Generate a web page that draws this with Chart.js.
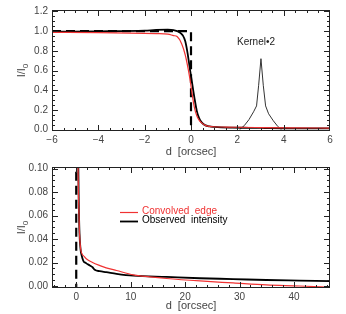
<!DOCTYPE html>
<html>
<head>
<meta charset="utf-8">
<script src="https://cdn.jsdelivr.net/npm/chart.js@4/dist/chart.umd.min.js"></script>
<style>
  html, body { margin: 0; padding: 0; background: #fff; }
  #wrap { position: relative; width: 346px; height: 314px; }
  canvas { position: absolute; left: 0; }
</style>
</head>
<body>
<div id="wrap">
  <canvas id="topChart" width="346" height="157" style="top:0"></canvas>
  <canvas id="bottomChart" width="346" height="157" style="top:157px"></canvas>
</div>
<script>
// observed intensity (black)
const obsD = [-6, -4, -2, -1.5, -1, -0.75, -0.5, -0.35, -0.25, -0.15, -0.05, 0.05, 0.15, 0.25, 0.35, 0.45, 0.6, 0.8, 1.0, 1.3, 1.8, 2.5, 3, 3.4, 4.3, 5.5, 7.4, 10.5, 16.6, 22.7, 28.8, 34.9, 41, 47];
const obsI = [0.995, 0.998, 1.005, 1.012, 1.015, 1.01, 0.99, 0.955, 0.9, 0.78, 0.62, 0.47, 0.32, 0.19, 0.115, 0.075, 0.045, 0.031, 0.026, 0.0215, 0.0195, 0.0175, 0.016, 0.0138, 0.0126, 0.0118, 0.0104, 0.0088, 0.0077, 0.0066, 0.0059, 0.0051, 0.0046, 0.0041];

// convolved edge (red)
const convD = [-6, -4, -2, -1.5, -1, -0.75, -0.6, -0.4, -0.25, -0.15, -0.05, 0.05, 0.15, 0.25, 0.35, 0.45, 0.6, 0.8, 1.0, 1.5, 1.9, 3, 4.35, 5.5, 7.4, 10.5, 13.5, 16.6, 22.7, 28.8, 34.9, 41, 47];
const convI = [0.988, 0.985, 0.978, 0.975, 0.97, 0.955, 0.945, 0.87, 0.76, 0.65, 0.52, 0.36, 0.22, 0.14, 0.095, 0.07, 0.045, 0.032, 0.028, 0.025, 0.023, 0.02, 0.0174, 0.0155, 0.0132, 0.0095, 0.0078, 0.0064, 0.0043, 0.0026, 0.0009, 0.0, -0.0012];

// kernel * 2
const kernelD = [2.1, 2.3, 2.5, 2.7, 2.83, 2.92, 3.02, 3.12, 3.22, 3.35, 3.55, 3.75, 3.9];
const kernelI = [0.0, 0.04, 0.1, 0.18, 0.24, 0.45, 0.72, 0.45, 0.24, 0.16, 0.09, 0.03, 0.0];

// true edge (dashed step)
const stepD = [-6, 0, 0];
const stepI = [1.0, 1.0, -0.1];

// axis ticks
const topXTicks = [-6, -4, -2, 0, 2, 4, 6];
const topYTicks = [0, 0.2, 0.4, 0.6, 0.8, 1.0, 1.2];
const botXTicks = [0, 10, 20, 30, 40];
const botYTicks = [0, 0.02, 0.04, 0.06, 0.08, 0.10];

const pts = (xs, ys) => xs.map((x, i) => ({x: x, y: ys[i]}));
const FONT = "'Liberation Sans', Arial, sans-serif";
const RED = '#f03232';

const idlFrame = {
  id: 'idlFrame',
  afterDatasetsDraw(chart, args, o) {
    const {ctx, chartArea: a, scales: {x, y}} = chart;
    ctx.save();
    ctx.strokeStyle = '#222';
    ctx.lineWidth = 1;
    ctx.strokeRect(a.left + 0.5, a.top + 0.5, a.right - a.left - 1, a.bottom - a.top - 1);
    const tick = (v, len, horiz) => {
      if (horiz) {
        const px = Math.round(x.getPixelForValue(v)) + 0.5;
        if (px < a.left || px > a.right) return;
        ctx.moveTo(px, a.bottom); ctx.lineTo(px, a.bottom - len);
        ctx.moveTo(px, a.top); ctx.lineTo(px, a.top + len);
      } else {
        const py = Math.round(y.getPixelForValue(v)) + 0.5;
        if (py < a.top || py > a.bottom) return;
        ctx.moveTo(a.left, py); ctx.lineTo(a.left + len, py);
        ctx.moveTo(a.right, py); ctx.lineTo(a.right - len, py);
      }
    };
    ctx.beginPath();
    for (let v = Math.ceil(x.min / o.xMinor) * o.xMinor; v <= x.max; v += o.xMinor) tick(v, 3, true);
    for (let v = Math.ceil(y.min / o.yMinor) * o.yMinor; v <= y.max; v += o.yMinor) tick(v, 3, false);
    o.xTicks.forEach(v => tick(v, 6, true));
    o.yTicks.forEach(v => tick(v, 6, false));
    ctx.stroke();
    ctx.restore();
  },
  afterDraw(chart, args, o) {
    const {ctx, chartArea: a} = chart;
    ctx.save();
    // y title I/I0
    ctx.translate(25, (a.top + a.bottom) / 2);
    ctx.rotate(-Math.PI / 2);
    ctx.fillStyle = '#444';
    ctx.font = '11px ' + FONT;
    ctx.textBaseline = 'alphabetic';
    const w1 = ctx.measureText('I/I').width;
    ctx.font = '8px ' + FONT;
    const w2 = ctx.measureText('0').width;
    const sx = -(w1 + w2) / 2;
    ctx.font = '11px ' + FONT;
    ctx.fillText('I/I', sx, 0);
    ctx.font = '8px ' + FONT;
    ctx.fillText('0', sx + w1, 3);
    ctx.restore();
    (o.texts || []).forEach(t => {
      ctx.save();
      ctx.font = t.size + 'px ' + FONT;
      ctx.fillStyle = t.color;
      ctx.textBaseline = 'middle';
      ctx.textAlign = t.align || 'left';
      ctx.fillText(t.text, t.x, t.y);
      if (t.line) {
        ctx.strokeStyle = t.color;
        ctx.lineWidth = t.line;
        ctx.beginPath();
        ctx.moveTo(t.x - 22, Math.round(t.y) + 0.5);
        ctx.lineTo(t.x - 4, Math.round(t.y) + 0.5);
        ctx.stroke();
      }
      ctx.restore();
    });
  }
};

function makeChart(id, cfg) {
  const datasets = [
    {label: 'Convolved edge', data: pts(convD, convI), borderColor: RED, borderWidth: 1.2, cubicInterpolationMode: 'monotone'},
    {label: 'Observed intensity', data: pts(obsD, obsI), borderColor: '#000', borderWidth: 1.8, cubicInterpolationMode: 'monotone'},
    {label: 'Edge', data: pts(stepD, stepI), borderColor: '#000', borderWidth: 2.2, borderDash: [9, 5]}
  ];
  if (cfg.kernel) {
    datasets.push({label: 'Kernel*2', data: pts(kernelD, kernelI), borderColor: '#333', borderWidth: 1});
  }
  return new Chart(document.getElementById(id), {
    type: 'line',
    data: {datasets: datasets},
    options: {
      responsive: false,
      devicePixelRatio: 1,
      animation: false,
      layout: {padding: {top: 7, right: 16, left: 0, bottom: 0}},
      elements: {point: {radius: 0}, line: {fill: false}},
      plugins: {
        legend: {display: false},
        tooltip: {enabled: false},
        idlFrame: {xTicks: cfg.xTicks, yTicks: cfg.yTicks, xMinor: cfg.xMinor, yMinor: cfg.yMinor, texts: cfg.texts}
      },
      scales: {
        x: {
          type: 'linear', min: cfg.xMin, max: cfg.xMax,
          grid: {display: false, drawTicks: false}, border: {display: false},
          afterBuildTicks: s => { s.ticks = cfg.xTicks.map(v => ({value: v})); },
          afterFit: s => { s.height = 26; },
          ticks: {
            padding: 3, color: '#444', font: {family: FONT, size: 10},
            maxRotation: 0,
            callback: v => v < 0 ? '\u2212' + Math.abs(v) : String(v)
          },
          title: {
            display: true, text: 'd  [orcsec]', color: '#444',
            font: {family: FONT, size: 11, lineHeight: 1},
            padding: {top: 0, bottom: cfg.titlePad}
          }
        },
        y: {
          type: 'linear', min: cfg.yMin, max: cfg.yMax,
          grid: {display: false, drawTicks: false}, border: {display: false},
          afterBuildTicks: s => { s.ticks = cfg.yTicks.map(v => ({value: v})); },
          afterFit: s => { s.width = 52; },
          ticks: {
            padding: 4, color: '#444', font: {family: FONT, size: 10},
            callback: v => v.toFixed(cfg.decimals)
          }
        }
      }
    },
    plugins: [idlFrame]
  });
}

makeChart('topChart', {
  xMin: -6, xMax: 6, yMin: -0.015, yMax: 1.215,
  xTicks: topXTicks, yTicks: topYTicks, xMinor: 0.5, yMinor: 0.05,
  decimals: 1, titlePad: 0, kernel: true,
  texts: [{text: 'Kernel\u20222', x: 256, y: 42, size: 10, color: '#222', align: 'center'}]
});

makeChart('bottomChart', {
  xMin: -4.45, xMax: 46.6, yMin: -0.0017, yMax: 0.1014,
  xTicks: botXTicks, yTicks: botYTicks, xMinor: 2, yMinor: 0.005,
  decimals: 2, titlePad: 2.5, kernel: false,
  texts: [
    {text: 'Convolved  edge', x: 142, y: 54.5, size: 10, color: RED, line: 1.2},
    {text: 'Observed  intensity', x: 142, y: 63.5, size: 10, color: '#000', line: 1.8}
  ]
});
</script>
</body>
</html>
